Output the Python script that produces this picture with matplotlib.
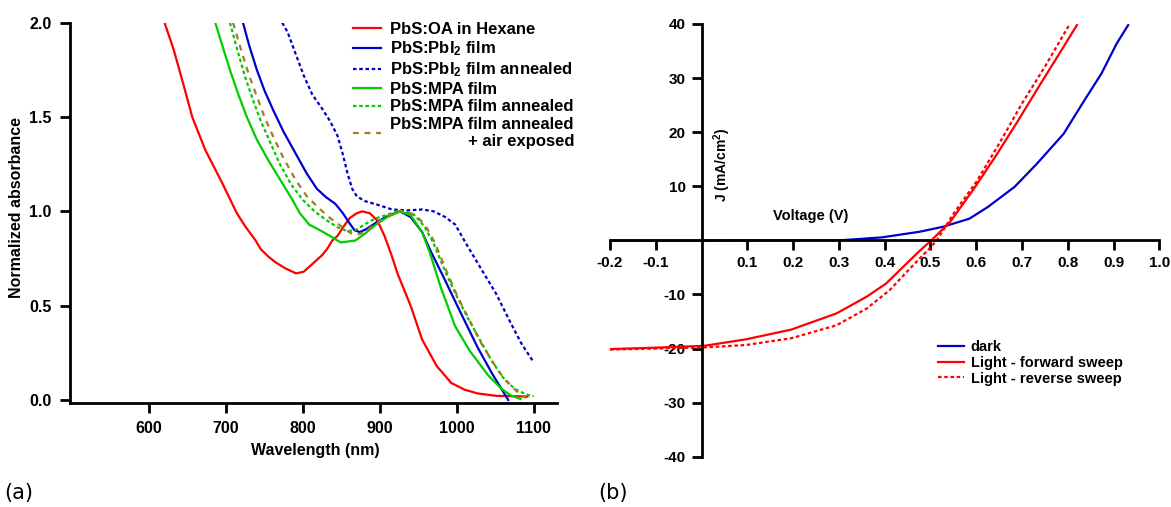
import matplotlib
matplotlib.use("Agg")
import matplotlib.pyplot as plt
import numpy as np

plt.rcParams['font.family'] = ['Liberation Sans', 'DejaVu Sans']
plt.rcParams['font.weight'] = 'bold'
plt.rcParams['axes.unicode_minus'] = False
plt.rcParams['mathtext.default'] = 'regular'

# ---------------- Panel (a) data: wavelength (nm), normalized absorbance ----------------
red_wl = [620, 632, 644, 656, 673, 695, 714, 725, 738, 745, 755, 765, 777, 791, 801, 813,
          825, 832, 838, 845, 852, 861, 870, 877, 887, 897, 906, 915, 923, 940, 955, 974,
          993, 1010, 1027, 1051, 1075, 1092]
red_a = [2.0, 1.855, 1.68, 1.50, 1.325, 1.15, 0.99, 0.92, 0.848, 0.80, 0.76, 0.728,
         0.698, 0.671, 0.68, 0.724, 0.768, 0.804, 0.845, 0.87, 0.915, 0.965, 0.99, 1.0,
         0.99, 0.95, 0.87, 0.77, 0.67, 0.50, 0.32, 0.18, 0.09, 0.055, 0.035, 0.022, 0.02,
         0.018]

blue_wl = [722, 730, 740, 750, 762, 775, 790, 805, 818, 830, 842, 852, 860, 867, 874, 882,
           895, 910, 926, 940, 955, 966, 983, 1003, 1027, 1046, 1058, 1067]
blue_a = [2.0, 1.88, 1.75, 1.64, 1.53, 1.42, 1.31, 1.20, 1.12, 1.075, 1.04, 0.99, 0.94,
          0.90, 0.89, 0.905, 0.94, 0.975, 1.0, 0.97, 0.89, 0.79, 0.65, 0.48, 0.28, 0.14,
          0.06, 0.0]

bluedot_wl = [773, 780, 790, 801, 812, 824, 835, 845, 852, 858, 864, 870, 880, 897, 916,
              935, 955, 970, 985, 998, 1012, 1031, 1051, 1070, 1084, 1100]
bluedot_a = [2.0, 1.95, 1.84, 1.72, 1.62, 1.55, 1.48, 1.40, 1.30, 1.20, 1.12, 1.08, 1.055,
             1.035, 1.01, 1.005, 1.01, 1.0, 0.97, 0.93, 0.83, 0.70, 0.565, 0.41, 0.30, 0.20]

green_wl = [686, 695, 705, 715, 727, 740, 755, 770, 785, 796, 808, 822, 835, 849, 858, 868,
            880, 895, 910, 926, 940, 955, 965, 979, 998, 1017, 1041, 1058, 1070, 1083]
green_a = [2.0, 1.88, 1.75, 1.63, 1.50, 1.38, 1.27, 1.17, 1.07, 0.99, 0.93, 0.90, 0.87,
           0.835, 0.84, 0.845, 0.88, 0.93, 0.97, 1.0, 0.98, 0.89, 0.78, 0.60, 0.39, 0.26,
           0.13, 0.06, 0.025, 0.005]

greendot_wl = [705, 715, 725, 735, 745, 758, 770, 785, 800, 815, 830, 845, 858, 868, 880,
               893, 908, 922, 932, 945, 958, 970, 985, 1000, 1015, 1030, 1045, 1060, 1075,
               1090, 1100]
greendot_a = [2.0, 1.85, 1.71, 1.59, 1.48, 1.36, 1.25, 1.14, 1.06, 1.0, 0.955, 0.915, 0.895,
              0.90, 0.93, 0.96, 0.98, 1.0, 1.0, 0.98, 0.92, 0.83, 0.68, 0.55, 0.43, 0.32,
              0.21, 0.12, 0.06, 0.03, 0.02]

brown_wl = [709, 720, 730, 740, 750, 762, 775, 790, 805, 820, 835, 850, 862, 870, 880, 893,
            908, 922, 932, 947, 960, 972, 987, 1002, 1017, 1032, 1047, 1062, 1077, 1090]
brown_a = [2.0, 1.85, 1.72, 1.61, 1.50, 1.39, 1.28, 1.17, 1.08, 1.02, 0.965, 0.92, 0.885,
           0.875, 0.89, 0.93, 0.97, 1.0, 1.0, 0.98, 0.92, 0.83, 0.68, 0.54, 0.42, 0.30,
           0.20, 0.11, 0.05, 0.01]

labels_a = ["PbS:OA in Hexane", "PbS:PbI$_2$ film", "PbS:PbI$_2$ film annealed",
            "PbS:MPA film", "PbS:MPA film annealed", "PbS:MPA film annealed\n+ air exposed"]

xticks_a = [600, 700, 800, 900, 1000, 1100]
yticks_a = [0.0, 0.5, 1.0, 1.5, 2.0]

# ---------------- Panel (b) data: voltage (V), J (mA/cm2) ----------------
dark_v = [-0.2, -0.1, 0.0, 0.1, 0.2, 0.31, 0.394, 0.477, 0.527, 0.585, 0.626, 0.684, 0.733,
          0.791, 0.832, 0.874, 0.907, 0.932]
dark_j = [-0.05, -0.05, -0.05, 0.0, 0.0, 0.05, 0.55, 1.6, 2.5, 4.0, 6.2, 9.9, 14.2, 19.7,
          25.3, 30.9, 36.4, 39.8]

fwd_v = [-0.2, -0.102, 0.006, 0.097, 0.196, 0.295, 0.361, 0.403, 0.444, 0.477, 0.502,
         0.543, 0.593, 0.642, 0.692, 0.741, 0.791, 0.82]
fwd_j = [-20.1, -19.85, -19.5, -18.3, -16.5, -13.5, -10.4, -8.0, -4.6, -1.9, 0.0, 3.4,
         9.3, 15.5, 22.2, 29.0, 35.8, 39.8]

rev_v = [-0.2, -0.1, 0.006, 0.097, 0.196, 0.295, 0.361, 0.411, 0.452, 0.494, 0.514, 0.551,
         0.601, 0.651, 0.700, 0.750, 0.803]
rev_j = [-20.2, -20.0, -19.8, -19.35, -18.1, -15.7, -12.6, -9.2, -5.5, -1.85, 0.0, 5.0,
         10.9, 18.0, 25.3, 32.1, 39.8]

labels_b = ["dark", "Light - forward sweep", "Light - reverse sweep"]
xticks_b = [-0.2, -0.1, 0.1, 0.2, 0.3, 0.4, 0.5, 0.6, 0.7, 0.8, 0.9, 1.0]
yticks_b = [-40, -30, -20, -10, 10, 20, 30, 40]

# ---------------- Figure ----------------
W, H = 1171, 507
fig = plt.figure(figsize=(W / 100, H / 100), dpi=100)

def fx(px):
    return px / W

def fy(py):
    return 1 - py / H

RED = '#FF0000'
BLUE = '#0000CC'
GREEN = '#00CC00'
BROWN = '#A57B28'
lw = 1.6
DOT = (0, (1.6, 1.2))

# Panel (a)
ax1 = fig.add_axes([fx(70), fy(402.7), fx(556.7) - fx(70), fy(22.7) - fy(402.7)])
h1, = ax1.plot(red_wl, red_a, color=RED, lw=lw)
h2, = ax1.plot(blue_wl, blue_a, color=BLUE, lw=lw)
h3, = ax1.plot(bluedot_wl, bluedot_a, color=BLUE, lw=lw, ls=DOT)
h4, = ax1.plot(green_wl, green_a, color=GREEN, lw=lw)
h5, = ax1.plot(greendot_wl, greendot_a, color=GREEN, lw=lw, ls=DOT)
h6, = ax1.plot(brown_wl, brown_a, color=BROWN, lw=lw, ls=(0, (2.6, 2.6)))
ax1.set_xlim(497, 1130)
ax1.set_ylim(-0.0143, 2.0)
ax1.set_xticks(xticks_a)
ax1.set_yticks(yticks_a)
ax1.set_yticklabels([f"{v:.1f}" for v in yticks_a])
for s in ['top', 'right']:
    ax1.spines[s].set_visible(False)
for s in ['left', 'bottom']:
    ax1.spines[s].set_linewidth(2.0)
ax1.tick_params(axis='both', direction='out', length=7.5, width=2.0, labelsize=11.5)
ax1.tick_params(axis='x', pad=6)
ax1.tick_params(axis='y', pad=6)
fig.text(fx(315), fy(450), "Wavelength (nm)", ha='center', va='center', fontsize=11.5,
         fontweight='bold')
fig.text(fx(17), fy(207), "Normalized absorbance", ha='center', va='center', fontsize=11.5,
         fontweight='bold', rotation=90)

leg1 = ax1.legend([h1, h2, h3, h4, h5, h6], labels_a, loc='upper left',
                  bbox_to_anchor=(fx(353), fy(22)), bbox_transform=fig.transFigure,
                  frameon=False, fontsize=12, handlelength=1.7, handletextpad=0.55,
                  labelspacing=0.15, borderpad=0, borderaxespad=0)
for t in leg1.get_texts():
    t.set_fontweight('bold')
leg1.get_texts()[-1].set_multialignment('right')

# Panel (b)
ax2 = fig.add_axes([fx(610), fy(456.7), fx(1159.3) - fx(610), fy(24) - fy(456.7)])
g1, = ax2.plot(dark_v, dark_j, color=BLUE, lw=lw)
g2, = ax2.plot(fwd_v, fwd_j, color=RED, lw=lw)
g3, = ax2.plot(rev_v, rev_j, color=RED, lw=lw, ls=DOT)
ax2.set_xlim(-0.2, 1.0)
ax2.set_ylim(-40, 40)
ax2.spines['left'].set_position(('data', 0))
ax2.spines['bottom'].set_position(('data', 0))
for s in ['top', 'right']:
    ax2.spines[s].set_visible(False)
for s in ['left', 'bottom']:
    ax2.spines[s].set_linewidth(2.0)
ax2.set_xticks(xticks_b)
ax2.set_xticklabels([f"{v:.1f}" for v in xticks_b])
ax2.set_yticks(yticks_b)
ax2.set_yticklabels([f"{v:d}" for v in yticks_b])
ax2.tick_params(axis='both', direction='out', length=7.5, width=2.0, labelsize=11, pad=4)
fig.text(fx(722), fy(165), "J (mA/cm$^2$)", ha='center', va='center',
         rotation=90, fontsize=10, fontweight='bold')
fig.text(fx(811), fy(216), "Voltage (V)", ha='center', va='center', fontsize=10.5,
         fontweight='bold')

leg2 = ax2.legend([g1, g2, g3], labels_b, loc='upper left',
                  bbox_to_anchor=(fx(938), fy(340)), bbox_transform=fig.transFigure,
                  frameon=False, fontsize=10.5, handlelength=1.8, handletextpad=0.45,
                  labelspacing=0.12, borderpad=0, borderaxespad=0)
for t in leg2.get_texts():
    t.set_fontweight('bold')

fig.text(fx(4), fy(493), "(a)", ha='left', va='center', fontsize=15, fontweight='normal',
         family='DejaVu Sans')
fig.text(fx(598), fy(493), "(b)", ha='left', va='center', fontsize=15, fontweight='normal',
         family='DejaVu Sans')

fig.savefig("out.png", dpi=100)
